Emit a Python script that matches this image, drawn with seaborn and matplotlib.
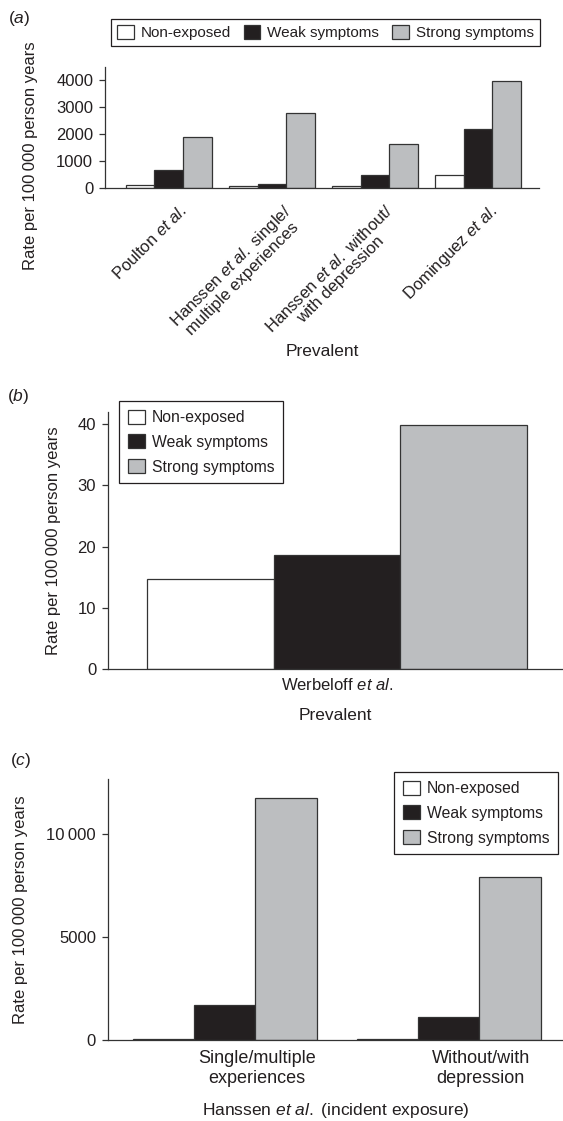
import matplotlib
matplotlib.use("Agg")
import matplotlib.pyplot as plt
import matplotlib.transforms as mtransforms
import seaborn as sns
import pandas as pd

# ---------------- data ----------------
groups = ["Non-exposed", "Weak symptoms", "Strong symptoms"]
colors = ["#ffffff", "#231f20", "#bcbec0"]

cats_a = ["Poulton $\\mathit{et\\ al.}$",
          "Hanssen $\\mathit{et\\ al.}$ single/\nmultiple experiences",
          "Hanssen $\\mathit{et\\ al.}$ without/\nwith depression",
          "Dominguez $\\mathit{et\\ al.}$"]
nonexp_a = [125, 70, 65, 495]
weak_a = [655, 160, 495, 2190]
strong_a = [1895, 2785, 1620, 3960]

cats_b = ["Werbeloff $\\mathit{et\\ al.}$"]
nonexp_b = [14.7]
weak_b = [18.6]
strong_b = [39.9]

cats_c = ["Single/multiple\nexperiences", "Without/with\ndepression"]
nonexp_c = [65, 65]
weak_c = [1700, 1130]
strong_c = [11760, 7920]

yticks_a = [0, 1000, 2000, 3000, 4000]
yticks_b = [0, 10, 20, 30, 40]
yticks_c = [0, 5000, 10000]
yticklabels_c = ["0", "5000", "10\u2009000"]

ylabel = "Rate per 100\u2009000 person years"


def long_df(cats, a, b, c):
    rows = []
    for i, cat in enumerate(cats):
        for g, vals in zip(groups, (a, b, c)):
            rows.append({"cat": cat, "group": g, "value": vals[i]})
    return pd.DataFrame(rows)


df_a = long_df(cats_a, nonexp_a, weak_a, strong_a)
df_b = long_df(cats_b, nonexp_b, weak_b, strong_b)
df_c = long_df(cats_c, nonexp_c, weak_c, strong_c)

# ---------------- style ----------------
sns.set_theme(style="ticks")
plt.rcParams["font.family"] = ["Liberation Sans", "DejaVu Sans"]
plt.rcParams["mathtext.fontset"] = "custom"
plt.rcParams["mathtext.rm"] = "Liberation Sans"
plt.rcParams["mathtext.it"] = "Liberation Sans:italic"
plt.rcParams["mathtext.bf"] = "Liberation Sans:bold"

FS_YT = 12       # y tick labels
FS_XL = 12.5     # x labels
FS_YL = 12       # y labels
TXT = "#231f20"
SPINE = "#333333"
palette = dict(zip(groups, colors))

W, H = 563, 1121
fig = plt.figure(figsize=(W / 100, H / 100), dpi=100)


def px_axes(left, top, right, bottom):
    return fig.add_axes([left / W, 1 - bottom / H, (right - left) / W, (bottom - top) / H])


ax_a = px_axes(105, 66.7, 539, 188)
ax_b = px_axes(108, 412, 563, 669)
ax_c = px_axes(107.7, 779.3, 563, 1040)


def draw(ax, df, cats, width, xt_size):
    sns.barplot(data=df, x="cat", y="value", hue="group", order=cats,
                hue_order=groups, palette=palette, width=width,
                edgecolor=SPINE, linewidth=0.9, saturation=1, ax=ax,
                errorbar=None)
    for s in ("top", "right"):
        ax.spines[s].set_visible(False)
    for s in ("left", "bottom"):
        ax.spines[s].set_color(SPINE)
        ax.spines[s].set_linewidth(0.9)
    ax.tick_params(axis="y", length=4, width=0.9, color=SPINE, pad=4.5,
                   labelsize=FS_YT, labelcolor=TXT)
    ax.tick_params(axis="x", length=0, labelsize=xt_size, labelcolor=TXT)
    ax.set_xlabel("")
    ax.set_ylabel(ylabel, fontsize=FS_YL, color=TXT)
    ax.yaxis.label.set_va("center")


def legend(ax, anchor, ncol, fs, labelspacing=0.4, borderpad=0.45,
           columnspacing=1.0):
    h, l = ax.get_legend_handles_labels()
    leg = ax.legend(h, l, loc="upper left",
                    bbox_to_anchor=(anchor[0] / W, 1 - anchor[1] / H),
                    bbox_transform=fig.transFigure, ncol=ncol, fontsize=fs,
                    frameon=True, fancybox=False, framealpha=1,
                    edgecolor=TXT, handlelength=1.1, handleheight=1.0,
                    handletextpad=0.45, columnspacing=columnspacing,
                    borderpad=borderpad, labelspacing=labelspacing,
                    borderaxespad=0)
    leg.get_frame().set_linewidth(0.9)
    for t in leg.get_texts():
        t.set_color(TXT)
    return leg


# ---------------- panel (a) ----------------
draw(ax_a, df_a, cats_a, 0.835, 12)
ax_a.set_xlim(-0.619, 3.592)
ax_a.set_ylim(0, 4500)
ax_a.set_yticks(yticks_a)
ax_a.set_yticklabels([str(v) for v in yticks_a])
ax_a.tick_params(axis="x", pad=0)
off_a = mtransforms.ScaledTranslation(0.10, -0.14, fig.dpi_scale_trans)
for lab in ax_a.get_xticklabels():
    lab.set_rotation(45)
    lab.set_ha("right")
    lab.set_va("top")
    lab.set_rotation_mode("anchor")
    lab.set_multialignment("center")
    lab.set_linespacing(1.0)
    lab.set_transform(lab.get_transform() + off_a)
ax_a.set_xlabel("Prevalent", fontsize=FS_XL, color=TXT)
ax_a.xaxis.set_label_coords(0.5, (188 - 351) / 121.3)
ax_a.xaxis.label.set_va("center")
ax_a.yaxis.set_label_coords((31 - 105) / 434, (188 - 156) / 121.3)
legend(ax_a, (110.6, 19), 3, 11, borderpad=0.4, columnspacing=0.85)

# ---------------- panel (b) ----------------
draw(ax_b, df_b, cats_b, 0.8, 12)
ax_b.set_xlim(-0.482, 0.476)
ax_b.set_ylim(0, 42)
ax_b.set_yticks(yticks_b)
ax_b.set_yticklabels([str(v) for v in yticks_b])
ax_b.tick_params(axis="x", pad=6)
ax_b.set_xlabel("Prevalent", fontsize=FS_XL, color=TXT)
ax_b.xaxis.set_label_coords(0.5, (669 - 715) / 257)
ax_b.xaxis.label.set_va("center")
ax_b.yaxis.set_label_coords((54 - 108) / 455, 0.5)
legend(ax_b, (119, 401), 1, 11.3, labelspacing=0.6, borderpad=0.55)

# ---------------- panel (c) ----------------
draw(ax_c, df_c, cats_c, 0.82, 13)
ax_c.set_xlim(-0.523, 1.51)
ax_c.set_ylim(0, 12650)
ax_c.set_yticks(yticks_c)
ax_c.set_yticklabels(yticklabels_c)
ax_c.tick_params(axis="x", pad=7)
off_c = mtransforms.ScaledTranslation(0.32, 0, fig.dpi_scale_trans)
for lab in ax_c.get_xticklabels():
    lab.set_multialignment("center")
    lab.set_linespacing(1.25)
    lab.set_transform(lab.get_transform() + off_c)
ax_c.set_xlabel("Hanssen $\\mathit{et\\ al.}$ (incident exposure)",
                fontsize=FS_XL, color=TXT)
ax_c.xaxis.set_label_coords(0.5, (1040 - 1110) / 260.7)
ax_c.xaxis.label.set_va("center")
ax_c.yaxis.set_label_coords((21 - 107.7) / 455.3, 0.5)
legend(ax_c, (394, 772), 1, 11.3, labelspacing=0.6, borderpad=0.55)

# ---------------- panel letters ----------------
for txt, x, y in (("($\\mathit{a}$)", 8, 19), ("($\\mathit{b}$)", 7, 397),
                  ("($\\mathit{c}$)", 10, 761)):
    fig.text(x / W, 1 - y / H, txt, fontsize=12.5, color=TXT,
             ha="left", va="center")

fig.savefig("out.png", dpi=100, facecolor="white")
